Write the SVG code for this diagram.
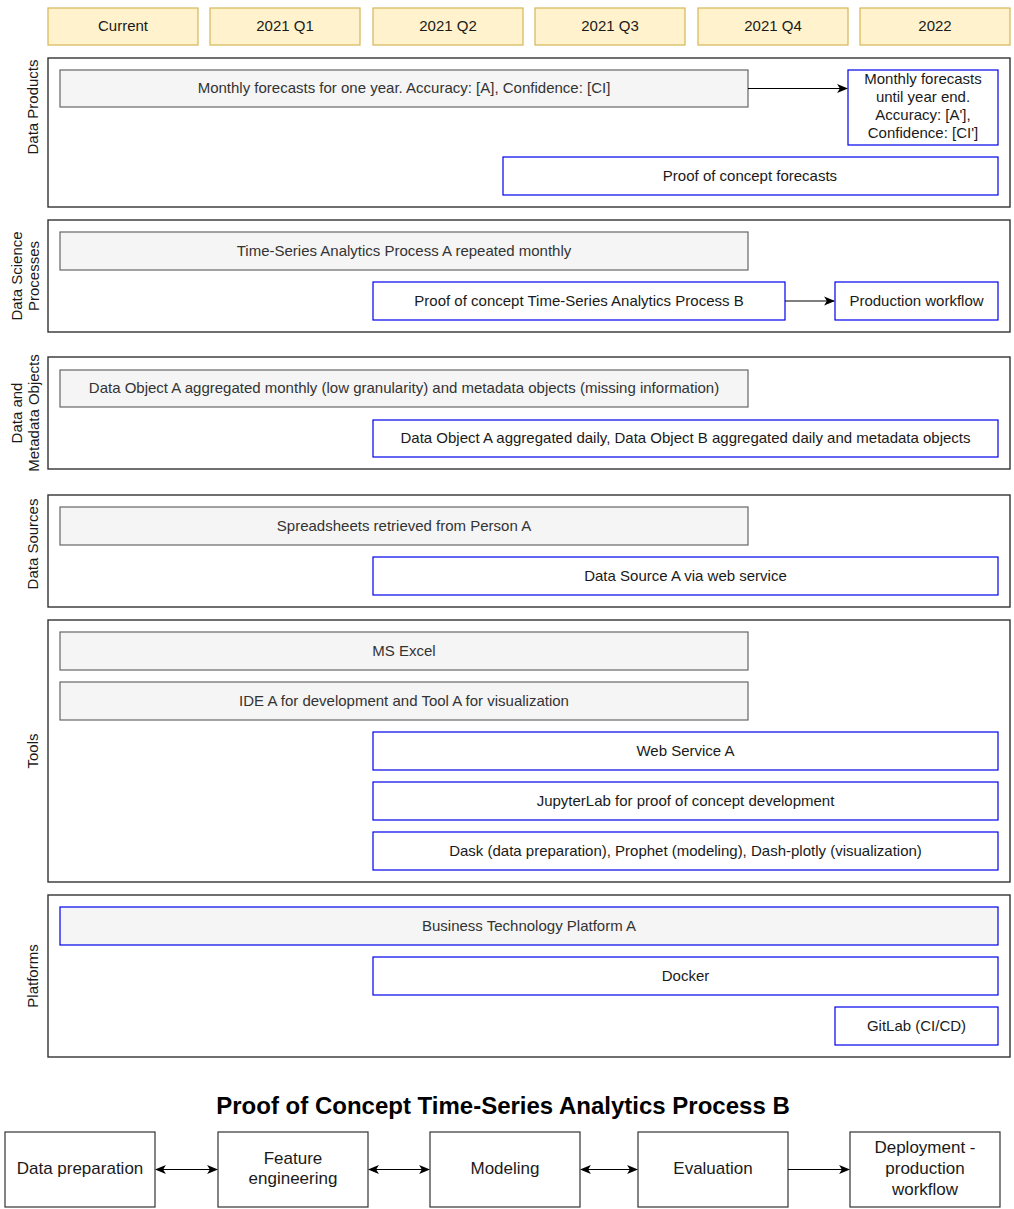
<svg xmlns="http://www.w3.org/2000/svg" width="1014" height="1209" viewBox="0 0 1014 1209">
  <defs>
    <marker id="arrow" viewBox="0 0 10 10" refX="9" refY="5" markerWidth="11" markerHeight="11" orient="auto-start-reverse" markerUnits="userSpaceOnUse">
      <path d="M0,1 L10,5 L0,9 L2.5,5 Z" fill="#000"/>
    </marker>
    <style>
      text { font-family: "Liberation Sans", Arial, sans-serif; font-size: 15px; fill: #1a1a1a; text-anchor: middle; dominant-baseline: central; }
      .hdr text, .cur text, .plan text, .platf text, .step text, .title { transform: translateY(-1px); }
      .hdr rect { fill: #fff2cc; stroke: #d6b656; stroke-width: 1.2; }
      .lane rect { fill: #ffffff; stroke: #333333; stroke-width: 1.4; }
      .cur rect { fill: #f5f5f5; stroke: #666666; stroke-width: 1.2; }
      .cur text { fill: #333333; }
      .plan rect { fill: #ffffff; stroke: #0000ee; stroke-width: 1.2; }
      .platf rect { fill: #f5f5f5; stroke: #0000ee; stroke-width: 1.2; }
      .platf text { fill: #333333; }
      .step rect { fill: #ffffff; stroke: #333333; stroke-width: 1.2; }
      .step text { font-size: 17px; }
      .title { font-size: 24px; font-weight: bold; fill: #000; }
      .conn path { fill: none; stroke: #000; stroke-width: 1.2; }
    </style>
  </defs>

  <!-- timeline header -->
  <g id="hdr-current" class="hdr"><rect x="48" y="8" width="150" height="37"/><text x="123" y="26">Current</text></g>
  <g id="hdr-2021q1" class="hdr"><rect x="210" y="8" width="150" height="37"/><text x="285" y="26">2021 Q1</text></g>
  <g id="hdr-2021q2" class="hdr"><rect x="373" y="8" width="150" height="37"/><text x="448" y="26">2021 Q2</text></g>
  <g id="hdr-2021q3" class="hdr"><rect x="535" y="8" width="150" height="37"/><text x="610" y="26">2021 Q3</text></g>
  <g id="hdr-2021q4" class="hdr"><rect x="698" y="8" width="150" height="37"/><text x="773" y="26">2021 Q4</text></g>
  <g id="hdr-2022" class="hdr"><rect x="860" y="8" width="150" height="37"/><text x="935" y="26">2022</text></g>

  <!-- swimlanes -->
  <g id="lane-data-products" class="lane">
    <rect x="48" y="58" width="962" height="149"/>
    <text transform="translate(32,107) rotate(-90)">Data Products</text>
  </g>
  <g id="lane-ds-processes" class="lane">
    <rect x="48" y="220" width="962" height="112"/>
    <text transform="translate(16,276) rotate(-90)">Data Science</text>
    <text transform="translate(33,276) rotate(-90)">Processes</text>
  </g>
  <g id="lane-data-objects" class="lane">
    <rect x="48" y="357" width="962" height="112"/>
    <text transform="translate(16,413) rotate(-90)">Data and</text>
    <text transform="translate(33,413) rotate(-90)">Metadata Objects</text>
  </g>
  <g id="lane-data-sources" class="lane">
    <rect x="48" y="495" width="962" height="112"/>
    <text transform="translate(32,544) rotate(-90)">Data Sources</text>
  </g>
  <g id="lane-tools" class="lane">
    <rect x="48" y="620" width="962" height="262"/>
    <text transform="translate(32,751) rotate(-90)">Tools</text>
  </g>
  <g id="lane-platforms" class="lane">
    <rect x="48" y="895" width="962" height="162"/>
    <text transform="translate(32,976) rotate(-90)">Platforms</text>
  </g>

  <!-- data products -->
  <g id="monthly-forecasts" class="cur"><rect x="60" y="70" width="688" height="37"/><text x="404" y="88.5">Monthly forecasts for one year. Accuracy: [A], Confidence: [CI]</text></g>
  <g id="monthly-forecasts-ye" class="plan"><rect x="848" y="70" width="150" height="75"/>
    <text x="923" y="79">Monthly forecasts</text>
    <text x="923" y="97">until year end.</text>
    <text x="923" y="115">Accuracy: [A'],</text>
    <text x="923" y="133">Confidence: [CI']</text>
  </g>
  <g id="poc-forecasts" class="plan"><rect x="503" y="157" width="495" height="38"/><text x="750" y="176">Proof of concept forecasts</text></g>

  <!-- data science processes -->
  <g id="ts-process-a" class="cur"><rect x="60" y="232" width="688" height="38"/><text x="404" y="251">Time-Series Analytics Process A repeated monthly</text></g>
  <g id="poc-ts-process-b" class="plan"><rect x="373" y="282" width="412" height="38"/><text x="579" y="301">Proof of concept Time-Series Analytics Process B</text></g>
  <g id="production-workflow" class="plan"><rect x="835" y="282" width="163" height="38"/><text x="916.5" y="301">Production workflow</text></g>

  <!-- data and metadata objects -->
  <g id="data-object-a-monthly" class="cur"><rect x="60" y="370" width="688" height="37"/><text x="404" y="388.5">Data Object A aggregated monthly (low granularity) and metadata objects (missing information)</text></g>
  <g id="data-objects-daily" class="plan"><rect x="373" y="420" width="625" height="37"/><text x="685.5" y="438.5">Data Object A aggregated daily, Data Object B aggregated daily and metadata objects</text></g>

  <!-- data sources -->
  <g id="spreadsheets" class="cur"><rect x="60" y="507" width="688" height="38"/><text x="404" y="526">Spreadsheets retrieved from Person A</text></g>
  <g id="data-source-a" class="plan"><rect x="373" y="557" width="625" height="38"/><text x="685.5" y="576">Data Source A via web service</text></g>

  <!-- tools -->
  <g id="ms-excel" class="cur"><rect x="60" y="632" width="688" height="38"/><text x="404" y="651">MS Excel</text></g>
  <g id="ide-tool-a" class="cur"><rect x="60" y="682" width="688" height="38"/><text x="404" y="701">IDE A for development and Tool A for visualization</text></g>
  <g id="web-service-a" class="plan"><rect x="373" y="732" width="625" height="38"/><text x="685.5" y="751">Web Service A</text></g>
  <g id="jupyterlab" class="plan"><rect x="373" y="782" width="625" height="38"/><text x="685.5" y="801">JupyterLab for proof of concept development</text></g>
  <g id="dask-prophet-dash" class="plan"><rect x="373" y="832" width="625" height="38"/><text x="685.5" y="851">Dask (data preparation), Prophet (modeling), Dash-plotly (visualization)</text></g>

  <!-- platforms -->
  <g id="btp-a" class="platf"><rect x="60" y="907" width="938" height="38"/><text x="529" y="926">Business Technology Platform A</text></g>
  <g id="docker" class="plan"><rect x="373" y="957" width="625" height="38"/><text x="685.5" y="976">Docker</text></g>
  <g id="gitlab" class="plan"><rect x="835" y="1007" width="163" height="38"/><text x="916.5" y="1026">GitLab (CI/CD)</text></g>

  <!-- process B steps -->
  <text class="title" x="503" y="1106">Proof of Concept Time-Series Analytics Process B</text>
  <g id="step-data-prep" class="step"><rect x="5" y="1132" width="150" height="75"/><text x="80" y="1169">Data preparation</text></g>
  <g id="step-feature-eng" class="step"><rect x="218" y="1132" width="150" height="75"/><text x="293" y="1159">Feature</text><text x="293" y="1179">engineering</text></g>
  <g id="step-modeling" class="step"><rect x="430" y="1132" width="150" height="75"/><text x="505" y="1169">Modeling</text></g>
  <g id="step-evaluation" class="step"><rect x="638" y="1132" width="150" height="75"/><text x="713" y="1169">Evaluation</text></g>
  <g id="step-deployment" class="step"><rect x="850" y="1132" width="150" height="75"/><text x="925" y="1148">Deployment -</text><text x="925" y="1169">production</text><text x="925" y="1190">workflow</text></g>

  <!-- connectors -->
  <g id="connectors" class="conn">
    <path d="M748,88.5 L847,88.5" marker-end="url(#arrow)"/>
    <path d="M785,301 L834,301" marker-end="url(#arrow)"/>
    <path d="M156,1169.5 L217,1169.5" marker-start="url(#arrow)" marker-end="url(#arrow)"/>
    <path d="M369,1169.5 L429,1169.5" marker-start="url(#arrow)" marker-end="url(#arrow)"/>
    <path d="M581,1169.5 L637,1169.5" marker-start="url(#arrow)" marker-end="url(#arrow)"/>
    <path d="M788,1169.5 L849,1169.5" marker-end="url(#arrow)"/>
  </g>
</svg>
